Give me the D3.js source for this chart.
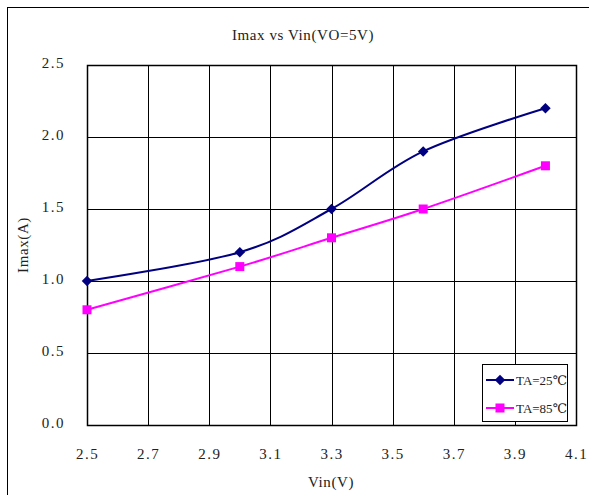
<!DOCTYPE html>
<html>
<head>
<meta charset="utf-8">
<script src="https://cdn.jsdelivr.net/npm/d3@7"></script>
<style>
  html, body { margin: 0; padding: 0; background: #fff; }
  svg text { font-family: "Liberation Serif", "DejaVu Serif", serif; fill: #222; }
</style>
</head>
<body>
<svg id="chart" width="589" height="495"></svg>
<script>
// data
const vin = [2.5, 3.0, 3.3, 3.6, 4.0];
const imax25 = [1.0, 1.2, 1.5, 1.9, 2.2];
const imax85 = [0.8, 1.1, 1.3, 1.5, 1.8];
const xTicks = [2.5, 2.7, 2.9, 3.1, 3.3, 3.5, 3.7, 3.9, 4.1];
const yTicks = [0, 0.5, 1.0, 1.5, 2.0, 2.5];
const seriesNames = ["TA=25\u2103", "TA=85\u2103"];

const svg = d3.select("#chart");
const plotL = 87, plotR = 576, plotT = 65, plotB = 425;

// outer frame (cut off on right/bottom like the screenshot)
svg.append("rect")
    .attr("x", 7.5).attr("y", 7.5)
    .attr("width", 600).attr("height", 500)
    .attr("fill", "none").attr("stroke", "#000").attr("stroke-width", 1);

const x = d3.scaleLinear().domain([2.5, 4.1]).range([plotL, plotR]);
const y = d3.scaleLinear().domain([0, 2.5]).range([plotB, plotT]);

// grid
const grid = svg.append("g");
grid.selectAll("line.v").data(xTicks).join("line")
    .attr("x1", d => Math.round(x(d)) + 0.5).attr("x2", d => Math.round(x(d)) + 0.5)
    .attr("y1", plotT).attr("y2", plotB)
    .attr("stroke", "#000").attr("stroke-width", 1);
grid.selectAll("line.h").data(yTicks).join("line")
    .attr("y1", d => Math.round(y(d)) + 0.5).attr("y2", d => Math.round(y(d)) + 0.5)
    .attr("x1", plotL).attr("x2", plotR)
    .attr("stroke", "#000").attr("stroke-width", 1);
svg.append("rect")
    .attr("x", plotL + 0.5).attr("y", plotT + 0.5)
    .attr("width", plotR - plotL).attr("height", plotB - plotT)
    .attr("fill", "none").attr("stroke", "#000").attr("stroke-width", 1.5);

// tick labels via d3 axes, without lines
const xAxis = svg.append("g")
    .attr("transform", `translate(0,${plotB + 20})`)
    .call(d3.axisBottom(x).tickValues(xTicks).tickFormat(d3.format(".1f")).tickSize(0));
xAxis.select(".domain").remove();
xAxis.selectAll("text").attr("font-size", 15).attr("letter-spacing", 1.5);

const yAxis = svg.append("g")
    .attr("transform", `translate(${plotL - 19},0)`)
    .call(d3.axisLeft(y).tickValues(yTicks).tickFormat(d3.format(".1f")).tickSize(0));
yAxis.select(".domain").remove();
yAxis.selectAll("text").attr("font-size", 15).attr("letter-spacing", 1.5).attr("dy", "0.15em");

// titles
svg.append("text").attr("x", 303).attr("y", 40)
    .attr("text-anchor", "middle").attr("font-size", 15).attr("letter-spacing", 0.6)
    .text("Imax vs Vin(VO=5V)");
svg.append("text").attr("x", 331).attr("y", 487)
    .attr("text-anchor", "middle").attr("font-size", 15).attr("letter-spacing", 0.6).text("Vin(V)");
svg.append("text").attr("transform", "translate(28,245) rotate(-90)")
    .attr("text-anchor", "middle").attr("font-size", 15).attr("letter-spacing", 0.6).text("Imax(A)");

// lines
const line = d3.line().x(d => x(d[0])).y(d => y(d[1])).curve(d3.curveCardinal.tension(0));
const s25 = vin.map((v, i) => [v, imax25[i]]);
const s85 = vin.map((v, i) => [v, imax85[i]]);
const navy = "#000080", magenta = "#FF00FF";

svg.append("path").attr("d", line(s25)).attr("fill", "none").attr("stroke", navy).attr("stroke-width", 2);
svg.append("path").attr("d", line(s85)).attr("fill", "none").attr("stroke", magenta).attr("stroke-width", 2);

const diamond = d3.symbol().type(d3.symbolDiamond2).size(70);
svg.selectAll("path.m25").data(s25).join("path")
    .attr("d", diamond).attr("fill", navy)
    .attr("transform", d => `translate(${x(d[0])},${y(d[1])})`);
svg.selectAll("rect.m85").data(s85).join("rect")
    .attr("x", d => x(d[0]) - 4.5).attr("y", d => y(d[1]) - 4.5)
    .attr("width", 9).attr("height", 9).attr("fill", magenta);

// legend
const lg = svg.append("g");
lg.append("rect").attr("x", 482.5).attr("y", 364.5).attr("width", 85).attr("height", 57)
    .attr("fill", "#fff").attr("stroke", "#000").attr("stroke-width", 1);
seriesNames.forEach((name, i) => {
    const ly = 380 + i * 28;
    const col = i === 0 ? navy : magenta;
    lg.append("line").attr("x1", 486).attr("x2", 514).attr("y1", ly).attr("y2", ly)
        .attr("stroke", col).attr("stroke-width", 2);
    if (i === 0) {
        lg.append("path").attr("d", diamond).attr("fill", col)
            .attr("transform", `translate(500,${ly})`);
    } else {
        lg.append("rect").attr("x", 495.5).attr("y", ly - 4.5).attr("width", 9).attr("height", 9).attr("fill", col);
    }
    lg.append("text").attr("x", 516).attr("y", ly + 5).attr("font-size", 13).text(name);
});
</script>
</body>
</html>
